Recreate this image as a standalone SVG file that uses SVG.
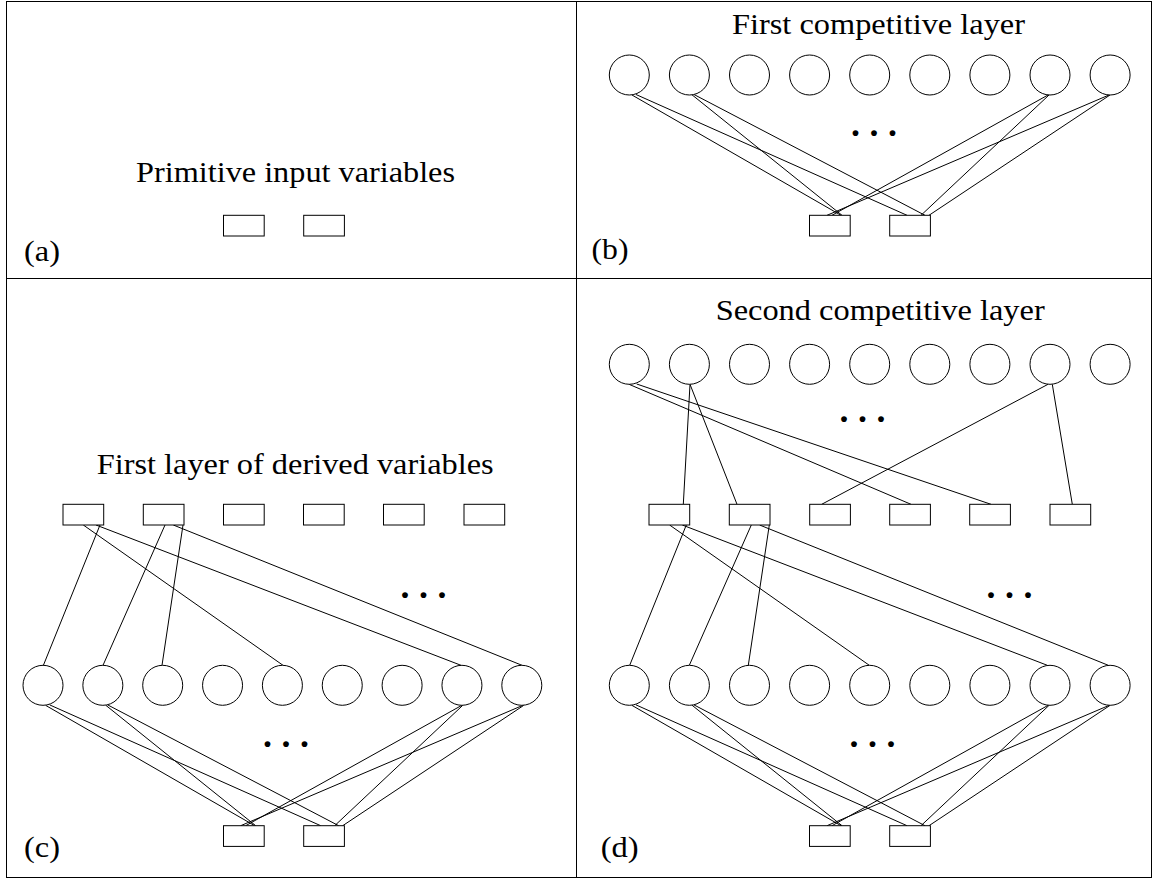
<svg xmlns="http://www.w3.org/2000/svg" width="1153" height="879" viewBox="0 0 1153 879">
<style>
.frame{fill:none;stroke:#000;stroke-width:1}
.box{fill:#fff;stroke:#000;stroke-width:1}
.unit{fill:#fff;stroke:#000;stroke-width:1}
.conn line{stroke:#000;stroke-width:1}
.t{font-family:"Liberation Serif","Times New Roman",serif;font-size:29.5px;fill:#000}
.dots{font-family:"Liberation Serif","Times New Roman",serif;font-size:36px;font-weight:bold;letter-spacing:9.5px;fill:#000}
</style>
<rect width="1153" height="879" fill="#fff"/>
<g id="frame">
<rect class="frame" x="6.5" y="1.5" width="1145" height="876"/>
<line class="frame" x1="576.5" y1="1.5" x2="576.5" y2="877.5"/>
<line class="frame" x1="6.5" y1="278.5" x2="1151.5" y2="278.5"/>
</g>
<g id="labels">
<text class="t" x="136" y="181.7" textLength="319" lengthAdjust="spacingAndGlyphs">Primitive input variables</text>
<text class="t" x="732" y="34.3" textLength="293" lengthAdjust="spacingAndGlyphs">First competitive layer</text>
<text class="t" x="96.7" y="474.3" textLength="397" lengthAdjust="spacingAndGlyphs">First layer of derived variables</text>
<text class="t" x="715.7" y="320" textLength="329" lengthAdjust="spacingAndGlyphs">Second competitive layer</text>
<text class="t" x="24" y="261" textLength="36" lengthAdjust="spacingAndGlyphs">(a)</text>
<text class="t" x="591.5" y="259" textLength="37" lengthAdjust="spacingAndGlyphs">(b)</text>
<text class="t" x="24" y="856.5" textLength="36" lengthAdjust="spacingAndGlyphs">(c)</text>
<text class="t" x="600.7" y="856.5" textLength="38" lengthAdjust="spacingAndGlyphs">(d)</text>
<text class="dots" x="851" y="136">...</text>
<text class="dots" x="263" y="747">...</text>
<text class="dots" x="849.5" y="747">...</text>
<text class="dots" x="400.5" y="598">...</text>
<text class="dots" x="986.5" y="598">...</text>
<text class="dots" x="839.5" y="422">...</text>
</g>
<g id="connectors" class="conn">
<!-- panel b -->
<line x1="632" y1="95" x2="841" y2="215.3"/>
<line x1="636" y1="94.5" x2="907" y2="215.3"/>
<line x1="692" y1="94.8" x2="842" y2="215.3"/>
<line x1="694" y1="94.5" x2="925" y2="215.3"/>
<line x1="1048" y1="95" x2="832" y2="215.3"/>
<line x1="1049" y1="95" x2="921" y2="215.3"/>
<line x1="1109" y1="95" x2="827" y2="215.3"/>
<line x1="1110" y1="95" x2="929" y2="215.3"/>
<!-- panel c bottom -->
<line x1="45.7" y1="705.4" x2="254.7" y2="825.7"/>
<line x1="49.7" y1="704.9" x2="320.7" y2="825.7"/>
<line x1="105.7" y1="705.2" x2="255.7" y2="825.7"/>
<line x1="107.7" y1="704.9" x2="338.7" y2="825.7"/>
<line x1="461.7" y1="705.4" x2="245.7" y2="825.7"/>
<line x1="462.7" y1="705.4" x2="334.7" y2="825.7"/>
<line x1="522.7" y1="705.4" x2="240.7" y2="825.7"/>
<line x1="523.7" y1="705.4" x2="342.7" y2="825.7"/>
<!-- panel c upper -->
<line x1="100" y1="525" x2="43.4" y2="665.3"/>
<line x1="83.3" y1="525" x2="283" y2="665.3"/>
<line x1="96" y1="525" x2="461" y2="665.3"/>
<line x1="165" y1="525" x2="103" y2="665.3"/>
<line x1="183" y1="525" x2="162" y2="665.3"/>
<line x1="173.3" y1="525" x2="522" y2="665.3"/>
<!-- panel d bottom -->
<line x1="632" y1="705.4" x2="841" y2="825.7"/>
<line x1="636" y1="704.9" x2="907" y2="825.7"/>
<line x1="692" y1="705.2" x2="842" y2="825.7"/>
<line x1="694" y1="704.9" x2="925" y2="825.7"/>
<line x1="1048" y1="705.4" x2="832" y2="825.7"/>
<line x1="1049" y1="705.4" x2="921" y2="825.7"/>
<line x1="1109" y1="705.4" x2="827" y2="825.7"/>
<line x1="1110" y1="705.4" x2="929" y2="825.7"/>
<!-- panel d upper -->
<line x1="686.3" y1="525" x2="629.7" y2="665.3"/>
<line x1="669.6" y1="525" x2="869.3" y2="665.3"/>
<line x1="682.3" y1="525" x2="1047.3" y2="665.3"/>
<line x1="751.3" y1="525" x2="689.3" y2="665.3"/>
<line x1="769.3" y1="525" x2="748.3" y2="665.3"/>
<line x1="759.6" y1="525" x2="1108.3" y2="665.3"/>
<!-- panel d top -->
<line x1="629" y1="384.3" x2="911" y2="504.3"/>
<line x1="636.7" y1="384" x2="991" y2="504.3"/>
<line x1="690" y1="384.3" x2="683.3" y2="504.3"/>
<line x1="690" y1="384.3" x2="737" y2="504.3"/>
<line x1="1048" y1="384.3" x2="821.7" y2="504.3"/>
<line x1="1052.3" y1="384.3" x2="1072.3" y2="504.3"/>
</g>
<!-- panel a -->
<g id="a-in1"><rect class="box" x="223.5" y="215.3" width="40.7" height="20.7"/></g>
<g id="a-in2"><rect class="box" x="303.7" y="215.3" width="40.7" height="20.7"/></g>
<!-- panel b -->
<g id="b-in1"><rect class="box" x="809.5" y="215.3" width="40.7" height="20.7"/></g>
<g id="b-in2"><rect class="box" x="889.7" y="215.3" width="40.7" height="20.7"/></g>
<g id="b-u1"><circle class="unit" cx="629.3" cy="75" r="20"/></g>
<g id="b-u2"><circle class="unit" cx="689.4" cy="75" r="20"/></g>
<g id="b-u3"><circle class="unit" cx="749.5" cy="75" r="20"/></g>
<g id="b-u4"><circle class="unit" cx="809.6" cy="75" r="20"/></g>
<g id="b-u5"><circle class="unit" cx="869.7" cy="75" r="20"/></g>
<g id="b-u6"><circle class="unit" cx="929.8" cy="75" r="20"/></g>
<g id="b-u7"><circle class="unit" cx="989.9" cy="75" r="20"/></g>
<g id="b-u8"><circle class="unit" cx="1050" cy="75" r="20"/></g>
<g id="b-u9"><circle class="unit" cx="1110.1" cy="75" r="20"/></g>
<!-- panel c -->
<g id="c-in1"><rect class="box" x="223.5" y="825.7" width="40.7" height="20.7"/></g>
<g id="c-in2"><rect class="box" x="303.7" y="825.7" width="40.7" height="20.7"/></g>
<g id="c-u1"><circle class="unit" cx="43" cy="685.3" r="20"/></g>
<g id="c-u2"><circle class="unit" cx="102.85" cy="685.3" r="20"/></g>
<g id="c-u3"><circle class="unit" cx="162.7" cy="685.3" r="20"/></g>
<g id="c-u4"><circle class="unit" cx="222.55" cy="685.3" r="20"/></g>
<g id="c-u5"><circle class="unit" cx="282.4" cy="685.3" r="20"/></g>
<g id="c-u6"><circle class="unit" cx="342.25" cy="685.3" r="20"/></g>
<g id="c-u7"><circle class="unit" cx="402.1" cy="685.3" r="20"/></g>
<g id="c-u8"><circle class="unit" cx="461.95" cy="685.3" r="20"/></g>
<g id="c-u9"><circle class="unit" cx="521.8" cy="685.3" r="20"/></g>
<g id="c-d1"><rect class="box" x="63" y="504.3" width="40.7" height="20.7"/></g>
<g id="c-d2"><rect class="box" x="143.3" y="504.3" width="40.7" height="20.7"/></g>
<g id="c-d3"><rect class="box" x="223.5" y="504.3" width="40.7" height="20.7"/></g>
<g id="c-d4"><rect class="box" x="303.5" y="504.3" width="40.7" height="20.7"/></g>
<g id="c-d5"><rect class="box" x="383.5" y="504.3" width="40.7" height="20.7"/></g>
<g id="c-d6"><rect class="box" x="464" y="504.3" width="40.7" height="20.7"/></g>
<!-- panel d -->
<g id="d-in1"><rect class="box" x="809.5" y="825.7" width="40.7" height="20.7"/></g>
<g id="d-in2"><rect class="box" x="889.7" y="825.7" width="40.7" height="20.7"/></g>
<g id="d-u1"><circle class="unit" cx="629.3" cy="685.3" r="20"/></g>
<g id="d-u2"><circle class="unit" cx="689.4" cy="685.3" r="20"/></g>
<g id="d-u3"><circle class="unit" cx="749.5" cy="685.3" r="20"/></g>
<g id="d-u4"><circle class="unit" cx="809.6" cy="685.3" r="20"/></g>
<g id="d-u5"><circle class="unit" cx="869.7" cy="685.3" r="20"/></g>
<g id="d-u6"><circle class="unit" cx="929.8" cy="685.3" r="20"/></g>
<g id="d-u7"><circle class="unit" cx="989.9" cy="685.3" r="20"/></g>
<g id="d-u8"><circle class="unit" cx="1050" cy="685.3" r="20"/></g>
<g id="d-u9"><circle class="unit" cx="1110.1" cy="685.3" r="20"/></g>
<g id="d-d1"><rect class="box" x="649" y="504.3" width="40.7" height="20.7"/></g>
<g id="d-d2"><rect class="box" x="729.3" y="504.3" width="40.7" height="20.7"/></g>
<g id="d-d3"><rect class="box" x="809.7" y="504.3" width="40.7" height="20.7"/></g>
<g id="d-d4"><rect class="box" x="889.7" y="504.3" width="40.7" height="20.7"/></g>
<g id="d-d5"><rect class="box" x="969.7" y="504.3" width="40.7" height="20.7"/></g>
<g id="d-d6"><rect class="box" x="1050" y="504.3" width="40.7" height="20.7"/></g>
<g id="d-s1"><circle class="unit" cx="629.3" cy="364.3" r="20"/></g>
<g id="d-s2"><circle class="unit" cx="689.4" cy="364.3" r="20"/></g>
<g id="d-s3"><circle class="unit" cx="749.5" cy="364.3" r="20"/></g>
<g id="d-s4"><circle class="unit" cx="809.6" cy="364.3" r="20"/></g>
<g id="d-s5"><circle class="unit" cx="869.7" cy="364.3" r="20"/></g>
<g id="d-s6"><circle class="unit" cx="929.8" cy="364.3" r="20"/></g>
<g id="d-s7"><circle class="unit" cx="989.9" cy="364.3" r="20"/></g>
<g id="d-s8"><circle class="unit" cx="1050" cy="364.3" r="20"/></g>
<g id="d-s9"><circle class="unit" cx="1110.1" cy="364.3" r="20"/></g>
</svg>
